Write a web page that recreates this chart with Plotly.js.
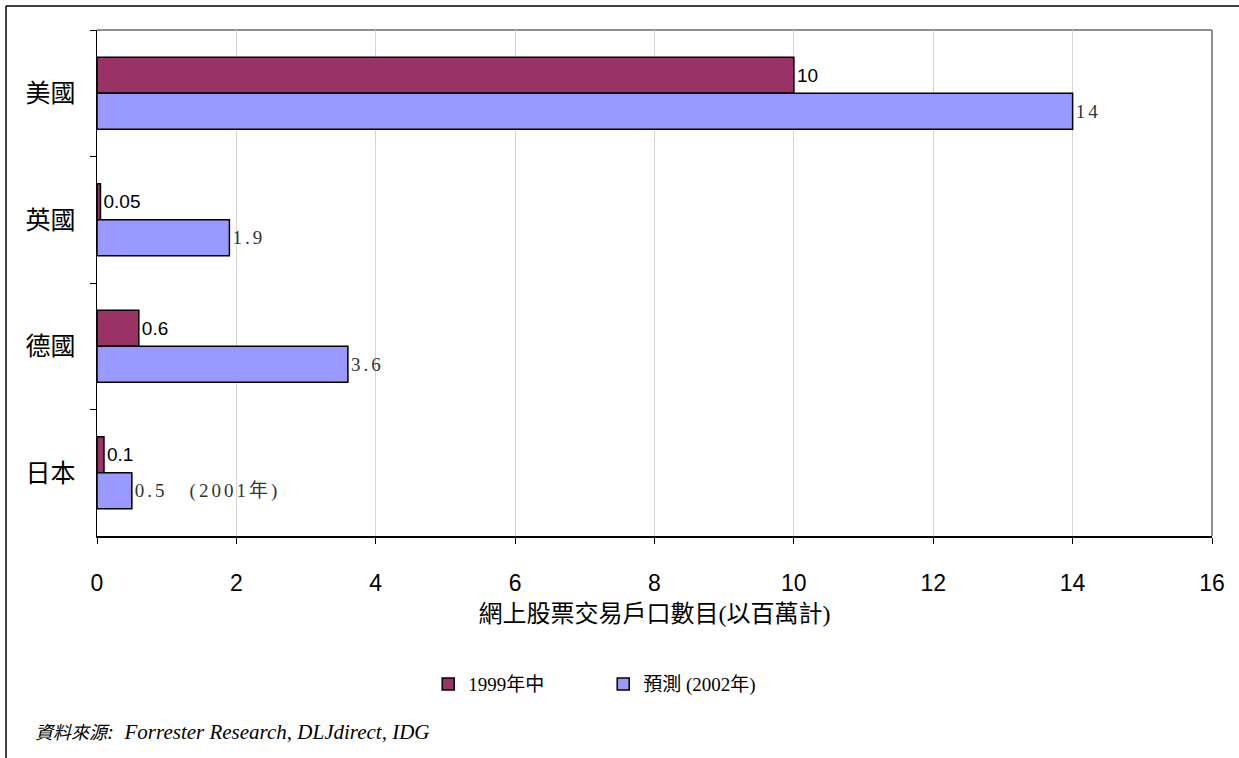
<!DOCTYPE html>
<html>
<head>
<meta charset="utf-8">
<script src="https://cdn.plot.ly/plotly-3.0.1.min.js"></script>
<style>
html,body{margin:0;padding:0;background:#fff;}
#chart{width:1239px;height:758px;}
text.bartext[style*="Liberation Serif"]{letter-spacing:3px;}
</style>
</head>
<body>
<div id="chart"></div>
<script>
const categories = ["美國", "英國", "德國", "日本"];
const seriesNames = ["1999年中", "預測 (2002年)"];
const values1999 = [10, 0.05, 0.6, 0.1];
const values2002 = [14, 1.9, 3.6, 0.5];
const labels1999 = ["10", "0.05", "0.6", "0.1"];
const labels2002 = ["14", "1.9", "3.6", "0.5　(2001年)"];
const xTicks = [0, 2, 4, 6, 8, 10, 12, 14, 16];
const axisTitle = "網上股票交易戶口數目(以百萬計)";
const sourceNote = "<i>資料來源<span style='font-size:21px'>:  Forrester Research, DLJdirect, IDG</span></i>";

const serif = "'Liberation Serif', 'Noto Sans CJK TC', serif";
const sans = "'Liberation Sans', Arial, 'Noto Sans CJK TC', sans-serif";

const traces = [
  {
    type: "bar", orientation: "h", name: seriesNames[0],
    y: categories, x: values1999,
    text: labels1999, textposition: "outside", cliponaxis: false,
    textfont: {family: sans, size: 19, color: "#000"},
    marker: {color: "#993366", line: {color: "#000", width: 1.5}}
  },
  {
    type: "bar", orientation: "h", name: seriesNames[1],
    y: categories, x: values2002,
    text: labels2002, textposition: "outside", cliponaxis: false,
    textfont: {family: serif, size: 19, color: "#333"},
    marker: {color: "#9999FF", line: {color: "#000", width: 1.5}}
  }
];

const layout = {
  width: 1239, height: 758,
  margin: {l: 97, r: 27, t: 30, b: 222},
  paper_bgcolor: "#fff", plot_bgcolor: "#fff",
  barmode: "group", bargap: 0.43, bargroupgap: 0,
  showlegend: true,
  legend: {
    orientation: "h", x: 0.454, xanchor: "center", y: -0.255, yanchor: "top",
    font: {family: serif, size: 19, color: "#000"},
    entrywidth: 130, entrywidthmode: "pixels", tracegroupgap: 0
  },
  xaxis: {
    range: [0, 16], tickvals: xTicks, ticktext: xTicks.map(String),
    showgrid: true, gridcolor: "#d4d4d4", gridwidth: 1,
    showline: true, linecolor: "#000", linewidth: 1.5,
    ticks: "outside", ticklen: 6, tickcolor: "#000", ticklabelstandoff: 20,
    tickfont: {family: sans, size: 23, color: "#000"},
    zeroline: false, fixedrange: true,
    title: {text: axisTitle, font: {family: serif, size: 24, color: "#000"}, standoff: 10}
  },
  yaxis: {
    type: "category", categoryorder: "array", categoryarray: categories,
    autorange: "reversed",
    showline: true, linecolor: "#000", linewidth: 1.5,
    ticks: "outside", ticklen: 6, tickcolor: "#000", tickson: "boundaries",
    ticklabelstandoff: 15,
    tickfont: {family: serif, size: 25, color: "#000"},
    showgrid: false, zeroline: false, fixedrange: true
  },
  shapes: [
    {type: "line", xref: "paper", yref: "paper", x0: 0, x1: 1, y0: 1, y1: 1, line: {color: "#909090", width: 2}, layer: "below"},
    {type: "line", xref: "paper", yref: "paper", x0: 1, x1: 1, y0: 0, y1: 1, line: {color: "#909090", width: 2}, layer: "below"},
    {type: "line", xref: "paper", yref: "paper", x0: -0.0816, x1: 1.05, y0: 1.0474, y1: 1.0474, line: {color: "#000", width: 1.5}},
    {type: "line", xref: "paper", yref: "paper", x0: -0.0816, x1: -0.0816, y0: -0.45, y1: 1.0474, line: {color: "#000", width: 1.5}}
  ],
  annotations: [
    {xref: "paper", yref: "paper", x: -0.057, y: -0.387, xanchor: "left", yanchor: "middle",
     text: sourceNote, showarrow: false, font: {family: serif, size: 18, color: "#000"}}
  ]
};

Plotly.newPlot("chart", traces, layout, {displayModeBar: false, staticPlot: true});
</script>
</body>
</html>
